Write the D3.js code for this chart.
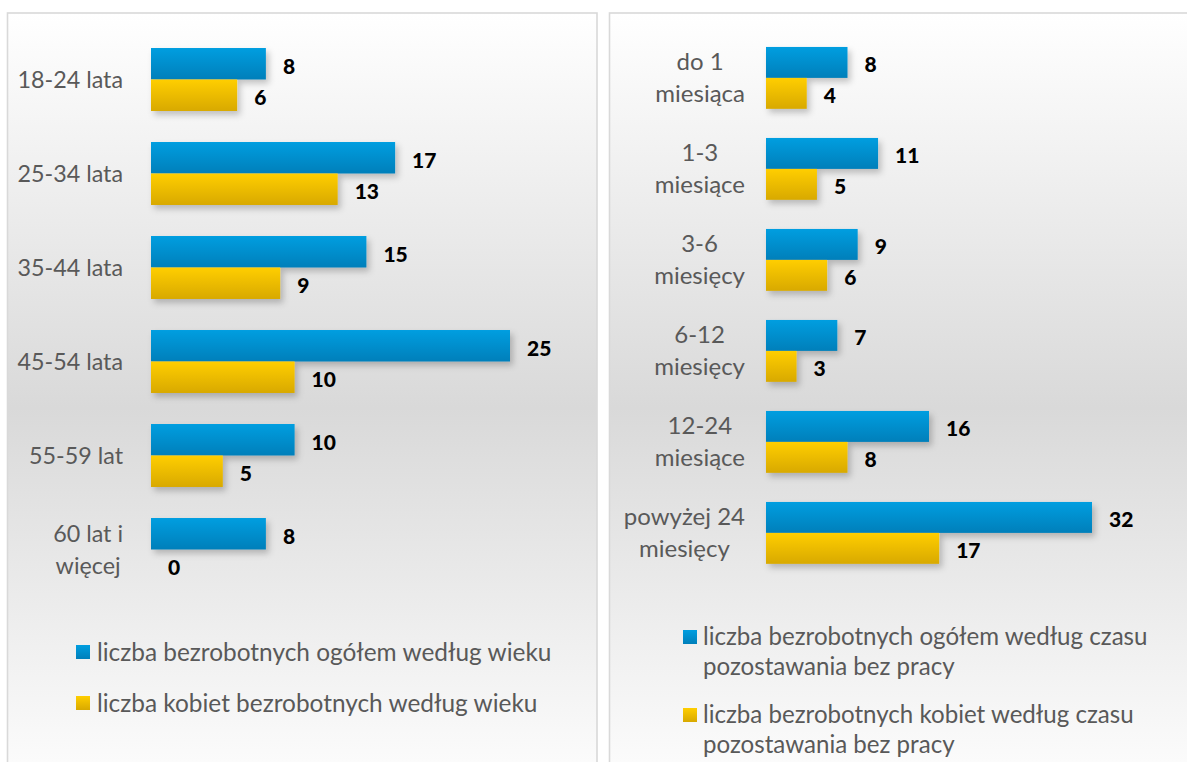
<!DOCTYPE html>
<html><head><meta charset="utf-8">
<script src="https://cdn.jsdelivr.net/npm/d3@7"></script>
<style>
html,body{margin:0;padding:0;background:#fff;}
svg{display:block;}
</style></head>
<body>
<svg id="c" width="1187" height="762"></svg>
<script>
// ---- data ----
const ageCategories = ["18-24 lata","25-34 lata","35-44 lata","45-54 lata","55-59 lat","60 lat i\nwięcej"];
const ageTotal = [8,17,15,25,10,8];
const ageWomen = [6,13,9,10,5,0];
const ageLegend = ["liczba bezrobotnych ogółem według wieku","liczba kobiet bezrobotnych według wieku"];

const durCategories = ["do 1\nmiesiąca","1-3\nmiesiące","3-6\nmiesięcy","6-12\nmiesięcy","12-24\nmiesiące","powyżej 24\nmiesięcy"];
const durTotal = [8,11,9,7,16,32];
const durWomen = [4,5,6,3,8,17];
const durLegend = [["liczba bezrobotnych ogółem według czasu","pozostawania bez pracy"],["liczba bezrobotnych kobiet według czasu","pozostawania bez pracy"]];

const FONT = "Lato, 'Open Sans', sans-serif";
const svg = d3.select("#c");
const defs = svg.append("defs");

function lg(id, stops){
  const g = defs.append("linearGradient").attr("id", id)
    .attr("x1",0).attr("y1",0).attr("x2",0).attr("y2",1);
  stops.forEach(s=>g.append("stop").attr("offset",s[0]).attr("stop-color",s[1]));
}
lg("bgGrad", [[0,"#ffffff"],[0.5,"#d9d9d9"],[1,"#ffffff"]]);
lg("blueGrad", [[0,"#009ee0"],[1,"#007fba"]]);
lg("yellowGrad", [[0,"#ffce00"],[1,"#d8a900"]]);
const f = defs.append("filter").attr("id","shadow").attr("x","-10%").attr("y","-30%").attr("width","130%").attr("height","180%");
f.append("feDropShadow").attr("dx",3).attr("dy",4).attr("stdDeviation",3).attr("flood-color","#000").attr("flood-opacity",0.22);

// panels
const panels = [{x:7.5,w:589.5},{x:609.5,w:590}];
panels.forEach(p=>{
  svg.append("rect").attr("x",p.x).attr("y",13).attr("width",p.w).attr("height",790)
    .attr("fill","url(#bgGrad)").attr("stroke","#d9d9d9").attr("stroke-width",1.6);
});

function drawChart(cfg){
  const x = d3.scaleLinear().domain(cfg.xDomain).range(cfg.xRange);
  const y = d3.scaleBand().domain(cfg.cats).range(cfg.yRange).paddingInner(cfg.pad).paddingOuter(cfg.pad/2);
  const bh = y.bandwidth()/2;
  const g = svg.append("g");
  const bars = g.append("g").attr("filter","url(#shadow)");
  const series = [{vals:cfg.total,fill:"url(#blueGrad)",off:0},{vals:cfg.women,fill:"url(#yellowGrad)",off:1}];
  series.forEach(s=>{
    bars.selectAll(null).data(cfg.cats).enter().append("rect")
      .attr("x", x(0))
      .attr("y", (d)=>y(d)+s.off*bh)
      .attr("width", (d,i)=>Math.max(0,x(s.vals[i])-x(0)))
      .attr("height", bh)
      .attr("fill", s.fill);
    g.selectAll(null).data(cfg.cats).enter().append("text")
      .attr("x",(d,i)=>x(s.vals[i])+17)
      .attr("y",(d)=>y(d)+s.off*bh+bh/2+2.5)
      .attr("dy","0.36em")
      .attr("font-family",FONT).attr("font-weight","900").attr("font-size",cfg.valSize)
      .attr("fill","#000")
      .text((d,i)=>s.vals[i]);
  });
  // category labels
  cfg.cats.forEach(c=>{
    const lines = c.split("\n");
    const cy = y(c)+y.bandwidth()/2;
    const t = g.append("text").attr("font-family",FONT).attr("font-size",cfg.labSize).attr("fill","#595959")
      .attr("text-anchor","middle");
    const spans = lines.map((l,i)=>t.append("tspan").attr("x",0).attr("y",cy+(i-(lines.length-1)/2)*cfg.lineH).attr("dy","0.35em").text(l));
    let maxW = 0; spans.forEach(s=>{maxW=Math.max(maxW,s.node().getComputedTextLength());});
    spans.forEach(s=>s.attr("x", cfg.labRight - maxW/2));
  });
}

drawChart({cats:ageCategories,total:ageTotal,women:ageWomen,xDomain:[0,25],xRange:[151,510],
  yRange:[32.5,596.5],pad:0.33,valSize:21,labSize:23.3,lineH:32,labRight:123});
drawChart({cats:durCategories,total:durTotal,women:durWomen,xDomain:[0,32],xRange:[766,1092],
  yRange:[32.4,578.4],pad:0.32,valSize:21,labSize:24,lineH:32,labRight:745});

// legends
function legendItem(mx, my, lines, fill, lineH, gap, size){
  svg.append("rect").attr("x",mx).attr("y",my-7).attr("width",14).attr("height",14).attr("fill",fill);
  const t = svg.append("text").attr("font-family",FONT).attr("font-size",size).attr("fill","#595959");
  lines.forEach((l,i)=>t.append("tspan").attr("x",mx+gap).attr("y",my+i*lineH).attr("dy","0.35em").text(l));
}
legendItem(76, 652, [ageLegend[0]], "url(#blueGrad)", 30, 21, 24.4);
legendItem(76, 703, [ageLegend[1]], "url(#yellowGrad)", 30, 21, 24.4);
legendItem(683, 637, durLegend[0], "url(#blueGrad)", 30, 20, 24.1);
legendItem(683, 715, durLegend[1], "url(#yellowGrad)", 30, 20, 24.1);
</script>
</body></html>
